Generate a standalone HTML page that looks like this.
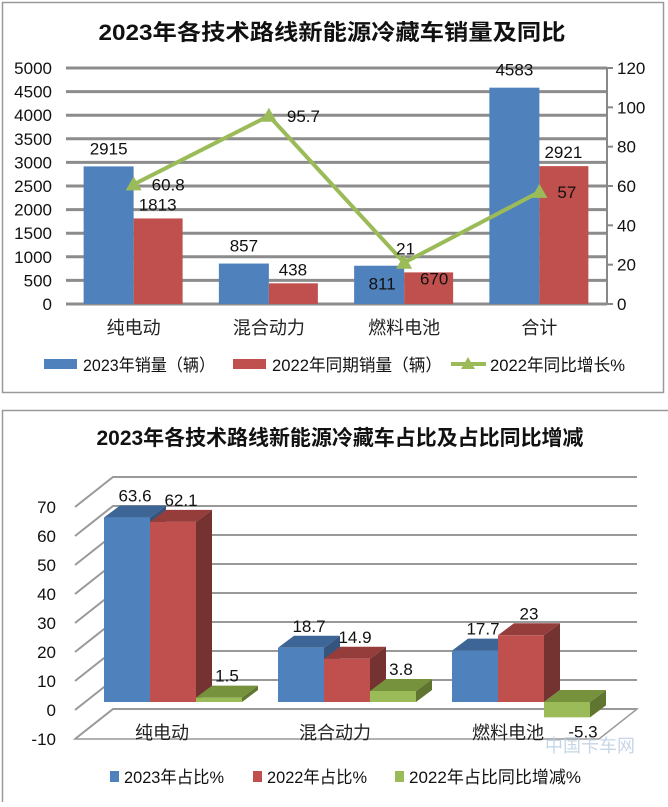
<!DOCTYPE html>
<html><head><meta charset="utf-8"><style>
body{margin:0;background:#fff;}
svg text{font-family:"Liberation Sans","Noto Sans CJK SC",sans-serif;}
</style></head><body>
<svg id="s" width="668" height="802" viewBox="0 0 668 802" xmlns="http://www.w3.org/2000/svg">
<rect x="2.5" y="2.5" width="661" height="390" fill="#fff" stroke="#999" stroke-width="1.5"/>
<text x="332" y="40" font-size="22" font-weight="bold" text-anchor="middle" fill="#111" textLength="467" lengthAdjust="spacingAndGlyphs">2023年各技术路线新能源冷藏车销量及同比</text>
<g id="top"></g>
<rect x="2.5" y="410.5" width="670" height="395" fill="#fff" stroke="#999" stroke-width="1.5"/>
<text x="340" y="445" font-size="21" font-weight="bold" text-anchor="middle" fill="#111" textLength="487" lengthAdjust="spacingAndGlyphs">2023年各技术路线新能源冷藏车占比及占比同比增减</text>
<g id="bot"></g>
</svg>
<script>
const NS="http://www.w3.org/2000/svg";
function mk(p,t,a,txt){const e=document.createElementNS(NS,t);for(const k in a)e.setAttribute(k,a[k]);if(txt!=null)e.textContent=txt;p.appendChild(e);return e;}
// ---- top chart data
const cats1=["纯电动","混合动力","燃料电池","合计"];
const sales2023=[2915,857,811,4583];
const sales2022=[1813,438,670,2921];
const growth=[60.8,95.7,21,57];
const leftTicks=[0,500,1000,1500,2000,2500,3000,3500,4000,4500,5000];
const rightTicks=[0,20,40,60,80,100,120];
const T=document.getElementById('top');
const X0=66,X1=607,Y0=304,Y1=68;
const yL=v=>Y0-(v/5000)*(Y0-Y1);
const yR=v=>Y0-(v/120)*(Y0-Y1);
const bw=(X1-X0)/cats1.length;
const cx=i=>X0+(i+0.5)*bw;
leftTicks.forEach(t=>{
 const g=mk(T,'line',{x1:X0,x2:X1,y1:yL(t),y2:yL(t),stroke:'#8c8c8c','stroke-width':3});
 
 
 const l=mk(T,'text',{x:52,y:yL(t)+6,'font-size':17,'text-anchor':'end',fill:'#111'},t);
 
 
});
mk(T,'line',{x1:X1,x2:X1,y1:Y1,y2:Y0,stroke:'#888','stroke-width':2});
rightTicks.forEach(t=>{
 mk(T,'line',{x1:X1,x2:X1+6,y1:yR(t),y2:yR(t),stroke:'#888','stroke-width':2});
 const l=mk(T,'text',{x:617,y:yR(t)+6,'font-size':17,fill:'#111'},t);
 
 
});
cats1.forEach((c,i)=>{
 const b=mk(T,'rect',{x:cx(i)-50,y:yL(sales2023[i]),width:50,height:Y0-yL(sales2023[i]),fill:'#4F81BD'});
 
 
 const r=mk(T,'rect',{x:cx(i),y:yL(sales2022[i]),width:49,height:Y0-yL(sales2022[i]),fill:'#C0504D'});
 
 
 const small=i===2;
 const l1=mk(T,'text',{x:cx(i)-(small?22:25),y:small?yL(sales2023[i])+24:yL(sales2023[i])-12,'font-size':17,'text-anchor':'middle',fill:'#111'},sales2023[i]);
 
 
 const l2=mk(T,'text',{x:cx(i)+(small?30:24),y:small?yL(sales2022[i])+12:yL(sales2022[i])-8,'font-size':17,'text-anchor':'middle',fill:'#111'},sales2022[i]);
 
 
 const cl=mk(T,'text',{x:cx(i),y:334,'font-size':18,'text-anchor':'middle',fill:'#222'},c);
 
 
});
const pl=mk(T,'polyline',{points:growth.map((v,i)=>cx(i)+','+yR(v)).join(' '),fill:'none',stroke:'#9BBB59','stroke-width':4});


growth.forEach((v,i)=>{
 const x=cx(i),y=yR(v);
 const m=mk(T,'polygon',{points:`${x},${y-8} ${x-8},${y+6} ${x+8},${y+6}`,fill:'#9BBB59'});
 
 
 const dx=i===2?-8:18,dy=i===2?-8:6;
 const l=mk(T,'text',{x:x+dx,y:y+dy,'font-size':17,fill:'#111'},v);
 
 
});
// legend
[[44,'#4F81BD','2023年销量（辆）',132],[233,'#C0504D','2022年同期销量（辆）',170]].forEach(([x,c,t,w])=>{
 mk(T,'rect',{x:x,y:359,width:33,height:10,fill:c});
 const l=mk(T,'text',{x:x+39,y:371,'font-size':17,fill:'#111',textLength:w,lengthAdjust:'spacingAndGlyphs'},t);
 
 
});
mk(T,'line',{x1:451,x2:486,y1:364,y2:364,stroke:'#9BBB59','stroke-width':4});
mk(T,'polygon',{points:'468,357 461,369 475,369',fill:'#9BBB59'});
const lg=mk(T,'text',{x:490,y:371,'font-size':17,fill:'#111',textLength:135,lengthAdjust:'spacingAndGlyphs'},'2022年同比增长%');



// ---- bottom chart data
const cats2=["纯电动","混合动力","燃料电池"];
const share2023=[63.6,18.7,17.7];
const share2022=[62.1,14.9,23];
const shareDiff=[1.5,3.8,-5.3];
const ticks2=[-10,0,10,20,30,40,50,60,70];
const B=document.getElementById('bot');
const u=2.9;
const WX0=113,WX1=637,DX=38;
const yb=v=>680-u*v, yf=v=>710-u*v;
const yBar=v=>702-u*v;
mk(B,'polygon',{points:`${WX0},709 ${WX1},709 ${WX1-DX},739 ${WX0-DX},739`,fill:'none',stroke:'#999','stroke-width':1.5});
ticks2.forEach(t=>{
 const g=mk(B,'polyline',{points:`${WX0-DX},${yf(t)} ${WX0},${yb(t)} ${WX1},${yb(t)}`,fill:'none',stroke:'#999','stroke-width':2});
 
 
 const l=mk(B,'text',{x:56,y:yf(t)+6,'font-size':17,'text-anchor':'end',fill:'#111'},t);
 
 
});
const D=16,DY=12,W=46;
function bar3(x,v,c,name){
 const y0=yBar(0),y=yBar(v),top=Math.min(y,y0),bot=Math.max(y,y0);
 const g=mk(B,'g',{});
 
 
 mk(g,'polygon',{points:`${x+W},${top} ${x+W+D},${top-DY} ${x+W+D},${bot-DY} ${x+W},${bot}`,fill:c[2]});
 mk(g,'polygon',{points:`${x},${top} ${x+D},${top-DY} ${x+W+D},${top-DY} ${x+W},${top}`,fill:c[1]});
 mk(g,'rect',{x:x,y:top,width:W,height:bot-top,fill:c[0]});
}
const cB=['#4F81BD','#3D6596','#35557E'],cR=['#C0504D','#943D3B','#743230'],cG=['#9BBB59','#76923C','#5F7530'];
cats2.forEach((c,i)=>{
 const x=104+i*174;
 bar3(x,share2023[i],cB,'bar-2023-share');
 bar3(x+W,share2022[i],cR,'bar-2022-share');
 bar3(x+2*W,shareDiff[i],cG,'bar-share-change');
 [[share2023[i],x],[share2022[i],x+W],[shareDiff[i],x+2*W]].forEach(([v,bx],k)=>{
  const y=v<0?yBar(v)+20:yBar(v)-16;
  const l=mk(B,'text',{x:bx+W/2+D/2+(v<0?8:0),y:y,'font-size':17,'text-anchor':'middle',fill:'#111'},v);
  
  
 });
 const cl=mk(B,'text',{x:162+i*173,y:739,'font-size':18,'text-anchor':'middle',fill:'#222'},c);
 
 
});
[[110,'#4F81BD','2023年占比%',100],[253,'#C0504D','2022年占比%',100],[395,'#9BBB59','2022年占比同比增减%',172]].forEach(([x,c,t,w])=>{
 mk(B,'rect',{x:x,y:771,width:9,height:11,fill:c});
 const l=mk(B,'text',{x:x+14,y:783,'font-size':17,fill:'#111',textLength:w,lengthAdjust:'spacingAndGlyphs'},t);
 
 
});
const wm=mk(B,'text',{x:545,y:752,'font-size':18,fill:'#b8cde0','opacity':0.8},'中国卡车网');


</script>
</body></html>
